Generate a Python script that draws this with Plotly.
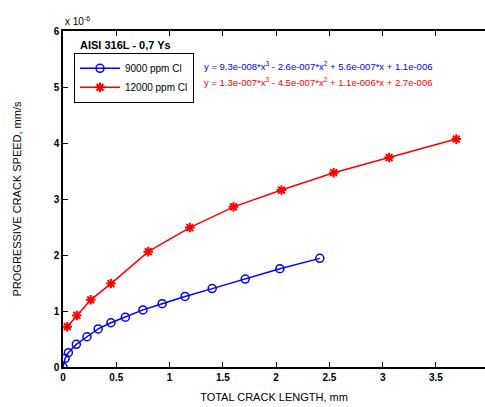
import plotly.graph_objects as go

# values in units of 1e-6 mm/s
x_9000 = [0.0, 0.02, 0.05, 0.125, 0.225, 0.33, 0.45, 0.585, 0.75, 0.93, 1.145, 1.40, 1.71, 2.035, 2.41]
y_9000 = [0.0, 0.155, 0.255, 0.405, 0.54, 0.68, 0.79, 0.89, 1.02, 1.13, 1.26, 1.40, 1.57, 1.755, 1.94]
x_12000 = [0.04, 0.13, 0.26, 0.45, 0.80, 1.19, 1.60, 2.05, 2.54, 3.06, 3.69]
y_12000 = [0.72, 0.92, 1.20, 1.49, 2.06, 2.49, 2.86, 3.16, 3.47, 3.74, 4.07]
x_ticks = [0, 0.5, 1, 1.5, 2, 2.5, 3, 3.5]
x_ticklabels = ["0", "0.5", "1", "1.5", "2", "2.5", "3", "3.5"]
y_ticks = [0, 1, 2, 3, 4, 5, 6]

FONT = "Liberation Sans, Arial, sans-serif"

fig = go.Figure()
fig.add_trace(go.Scatter(
    x=x_9000, y=y_9000, mode="lines+markers", name="9000 ppm Cl",
    line=dict(color="#0000ff", width=1.5),
    marker=dict(symbol="circle-open", size=8, color="#0000ff", line=dict(width=1.5, color="#0000ff")),
))
fig.add_trace(go.Scatter(
    x=x_12000, y=y_12000, mode="lines+markers", name="12000 ppm Cl",
    line=dict(color="#ff0000", width=1.5),
    marker=dict(symbol="asterisk-open", size=8, color="#ff0000", line=dict(width=2, color="#ff0000")),
))

fig.update_layout(
    width=485, height=407,
    paper_bgcolor="white", plot_bgcolor="white",
    margin=dict(l=63, r=0, t=31, b=40, autoexpand=False),
    font=dict(family=FONT, size=10, color="black"),
    showlegend=True,
    legend=dict(
        x=0.026, y=0.935, xanchor="left", yanchor="top",
        bordercolor="black", borderwidth=1, bgcolor="white",
        font=dict(size=10, family=FONT),
        tracegroupgap=0, itemwidth=40,
    ),
    xaxis=dict(
        range=[0, 3.96], tickvals=x_ticks, ticktext=x_ticklabels,
        showgrid=False, zeroline=False, automargin=False,
        showline=True, linecolor="black", linewidth=1.5, mirror="ticks",
        ticks="inside", ticklen=5, tickcolor="black", tickwidth=1,
        tickfont=dict(size=10, family=FONT, weight="bold"),
        title=dict(text="TOTAL CRACK LENGTH, mm", font=dict(size=11, family=FONT), standoff=12),
    ),
    yaxis=dict(
        range=[0, 6], tickvals=y_ticks,
        showgrid=False, zeroline=False, automargin=False,
        showline=True, linecolor="black", linewidth=1.5, mirror=False,
        ticks="inside", ticklen=5, tickcolor="black", tickwidth=1,
        tickfont=dict(size=10, family=FONT, weight="bold"),
        title=dict(text="PROGRESSIVE CRACK SPEED, mm/s", font=dict(size=11, family=FONT), standoff=30),
    ),
)

fig.add_annotation(
    xref="paper", yref="paper", x=0.0, y=1.0, xanchor="left", yanchor="bottom",
    text="x 10<sup>-6</sup>", showarrow=False, font=dict(size=10, family=FONT), yshift=2,
)
fig.add_annotation(
    xref="paper", yref="paper", x=0.036, y=0.958, xanchor="left", yanchor="middle",
    text="<b>AISI 316L - 0,7 Ys</b>", showarrow=False, font=dict(size=11, family=FONT),
)
fig.add_annotation(
    xref="paper", yref="paper", x=0.330, y=0.896, xanchor="left", yanchor="middle",
    text="y = 9.3e-008*x<sup>3</sup> - 2.6e-007*x<sup>2</sup> + 5.6e-007*x + 1.1e-006",
    showarrow=False, font=dict(size=9.5, family=FONT, color="#0000ff"),
)
fig.add_annotation(
    xref="paper", yref="paper", x=0.330, y=0.848, xanchor="left", yanchor="middle",
    text="y = 1.3e-007*x<sup>3</sup> - 4.5e-007*x<sup>2</sup> + 1.1e-006*x + 2.7e-006",
    showarrow=False, font=dict(size=9.5, family=FONT, color="#ff0000"),
)

fig.write_html(
    "out.html",
    config={"displayModeBar": False},
    post_script="document.body.style.margin='0';document.body.style.padding='0';",
)
